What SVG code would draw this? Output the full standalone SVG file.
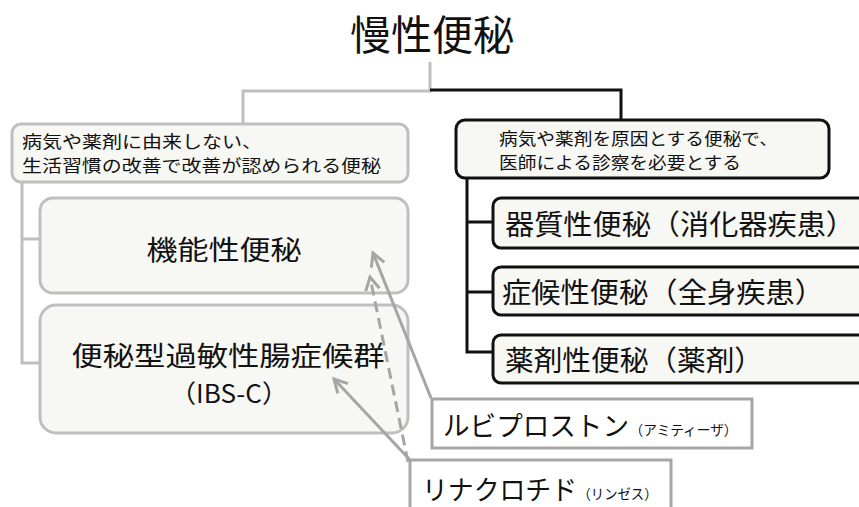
<svg xmlns="http://www.w3.org/2000/svg" width="859" height="507" viewBox="0 0 859 507">
<style>
text{font-family:"Noto Sans CJK JP","Noto Sans CJK SC",sans-serif;fill:#111;}
.gbox{fill:#f7f7f4;stroke:#bfbfbf;stroke-width:3;}
.bbox{fill:#f7f7f4;stroke:#111;stroke-width:3;}
.dbox{fill:#fff;stroke:#a6a6a6;stroke-width:3;}
.gl{fill:none;stroke:#bfbfbf;stroke-width:3;}
.bl{fill:none;stroke:#111;stroke-width:3;}
.ar{fill:none;stroke:#a6a6a6;stroke-width:3;marker-end:url(#chev);}
.dash{stroke-dasharray:11 6;}
</style>
<defs>
<marker id="chev" viewBox="-16 -10 20 20" refX="0" refY="0" markerWidth="20" markerHeight="20" markerUnits="userSpaceOnUse" orient="auto">
<path d="M-13,-7 L0,0 L-13,7" fill="none" stroke="#a6a6a6" stroke-width="3"/>
</marker>
</defs>
<rect width="859" height="507" fill="#fff"/>

<g id="title">
<text x="350" y="50" font-size="41" textLength="164" lengthAdjust="spacingAndGlyphs">慢性便秘</text>
</g>

<g id="connectors">
<path class="gl" d="M430,62 V91 H243 V124"/>
<path class="bl" d="M430,90 H621 V120"/>
<path class="gl" d="M22,182 V363 H40 M22,239 H40"/>
<path class="bl" d="M467,178 V352 H493 M467,222 H493 M467,292 H493"/>
</g>

<g id="left-group">
<rect class="gbox" x="12" y="124" width="396" height="58" rx="9"/>
<text x="22" y="147.5" font-size="16.5" textLength="240" lengthAdjust="spacingAndGlyphs">病気や薬剤に由来しない、</text>
<text x="22" y="171.5" font-size="16.5" textLength="359" lengthAdjust="spacingAndGlyphs">生活習慣の改善で改善が認められる便秘</text>
</g>

<g id="functional">
<rect class="gbox" x="40" y="198" width="368" height="95" rx="13"/>
<text x="146.5" y="260" font-size="27" textLength="155" lengthAdjust="spacingAndGlyphs">機能性便秘</text>
</g>

<g id="ibs-c">
<rect class="gbox" x="40" y="305" width="368" height="128" rx="16"/>
<text x="71.5" y="366" font-size="27" textLength="313" lengthAdjust="spacingAndGlyphs">便秘型過敏性腸症候群</text>
<text x="170" y="403" font-size="25" textLength="118" lengthAdjust="spacingAndGlyphs">（IBS-C）</text>
</g>

<g id="right-group">
<rect class="bbox" x="456" y="120" width="373" height="58" rx="9"/>
<text x="499" y="145" font-size="16.5" textLength="279" lengthAdjust="spacingAndGlyphs">病気や薬剤を原因とする便秘で、</text>
<text x="499" y="169" font-size="16.5" textLength="242" lengthAdjust="spacingAndGlyphs">医師による診察を必要とする</text>
</g>

<g id="organic">
<rect class="bbox" x="493" y="198" width="380" height="50" rx="8"/>
<text x="505" y="235" font-size="28" textLength="350" lengthAdjust="spacingAndGlyphs">器質性便秘（消化器疾患）</text>
</g>

<g id="symptomatic">
<rect class="bbox" x="493" y="267" width="380" height="48" rx="8"/>
<text x="502" y="303" font-size="28" textLength="322" lengthAdjust="spacingAndGlyphs">症候性便秘（全身疾患）</text>
</g>

<g id="drug-induced">
<rect class="bbox" x="493" y="335" width="380" height="48" rx="8"/>
<text x="505" y="371" font-size="28" textLength="258" lengthAdjust="spacingAndGlyphs">薬剤性便秘（薬剤）</text>
</g>

<g id="arrows">
<path class="ar" d="M431,398 L373,253"/>
<path class="ar dash" d="M408,462 L370,277"/>
<path class="ar" d="M410,460 L334,379"/>
</g>

<g id="lubiprostone">
<rect class="dbox" x="432" y="399" width="320" height="49"/>
<text x="443" y="436" font-size="27" textLength="186" lengthAdjust="spacingAndGlyphs">ルビプロストン</text>
<text x="629.5" y="435" font-size="14" textLength="108" lengthAdjust="spacingAndGlyphs">（アミティーザ）</text>
</g>

<g id="linaclotide">
<rect class="dbox" x="410" y="460" width="261" height="60"/>
<text x="422" y="500" font-size="27" textLength="155" lengthAdjust="spacingAndGlyphs">リナクロチド</text>
<text x="577.5" y="499" font-size="14" textLength="80" lengthAdjust="spacingAndGlyphs">（リンゼス）</text>
</g>
</svg>
